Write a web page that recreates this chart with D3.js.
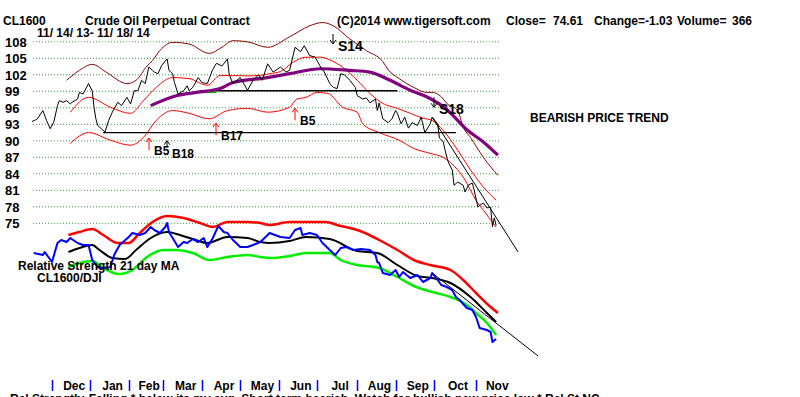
<!DOCTYPE html>
<html>
<head>
<meta charset="utf-8">
<script src="https://cdn.jsdelivr.net/npm/d3@7"></script>
<style>
  body { margin: 0; background: #fff; }
  svg text { font-family: "Liberation Sans", Arial, sans-serif; font-weight: bold; fill: #000; }
</style>
</head>
<body>
<div id="chart"></div>
<script>
// price axis ticks and month axis (trading-day index of first session in each month)
const priceTicks = [75, 78, 81, 84, 87, 90, 93, 96, 99, 102, 105, 108];
const monthNames = ['Dec', 'Jan', 'Feb', 'Mar', 'Apr', 'May', 'Jun', 'Jul', 'Aug', 'Sep', 'Oct', 'Nov'];
const monthStarts = [11, 32, 53, 72, 93, 114, 135, 156, 178, 199, 220, 243, 263];

// [trading day, value]
const price = [[0,93.5],[2,93.8],[3,94],[6,95.5],[8,93.7],[10,92.2],[12,93.4],[14,96.4],[15,97.3],[17,97],[19,97.3],[21,96.7],[22,97],[25,97.6],[26,98.8],[28,98.5],[31,100.4],[33,99.1],[34,96.1],[35,94],[36,92.8],[38,92.2],[40,91.6],[42,93.7],[44,95.2],[47,97],[49,96.4],[52,97.9],[54,96.7],[56,99.1],[58,99.1],[60,101],[62,100.4],[64,103.4],[66,102.8],[67,102.5],[69,102.2],[71,103.7],[74,104.9],[75,102.8],[77,102.2],[78,100.6],[80,98.5],[83,99.1],[85,100],[86,99.1],[88,99.7],[91,101.5],[93,100.6],[96,100.4],[99,103],[101,104.1],[104,103.6],[107,104.9],[108,102],[110,100.4],[114,101.5],[118,99.2],[121,101],[124,102],[126,101],[129,104],[132,102.5],[136,103.4],[139,102.5],[141,102.8],[144,107],[147,106.2],[149,107.3],[152,105.5],[155,105.2],[158,103.4],[160,102.5],[163,100.4],[165,99.7],[167,99.5],[169,102.2],[171,102],[174,101],[177,99.7],[178,98.2],[181,97.6],[183,97.8],[185,96.9],[188,97.6],[189,95.5],[190,96.9],[192,94],[195,93.3],[197,94],[199,95.5],[200,95],[202,93.1],[204,94.3],[206,92.3],[208,93.3],[211,92.8],[213,94.3],[215,91.5],[218,93.1],[219,94.3],[222,93.1],[223,90.5],[225,89.9],[227,87],[228,86],[230,84.7],[231,81.9],[233,82.5],[236,81.9],[237,80.7],[239,82],[241,82.3],[242,81],[244,78],[247,78.7],[249,77.8],[251,77.9],[252,74.4],[253,76],[254,74.61]];

const outerBand = [[19,101],[26,102.8],[33,103.9],[41,102.4],[52,100.4],[57,101],[63,103.6],[66,104.6],[70,106.4],[77,107.9],[86,107.6],[97,105.9],[104,107],[110,108.2],[118,108],[129,107],[141,108.9],[152,110.9],[159,111.5],[165,110.9],[174,108.5],[183,106.4],[192,104.4],[195,102.9],[201,101.3],[209,99.7],[216,98.8],[219,98.8],[224,98],[227,96.8],[233,95.5],[236,92.5],[240,90.6],[247,87],[255,83.7]];

const upperBand = [[21,95.2],[31,97.9],[43,96.1],[54,95],[61,97.3],[68,99.7],[77,101.5],[86,101.3],[96,100.1],[103,101.9],[118,101.8],[125,101.9],[130,102.2],[136,102.6],[143,104.3],[150,105.2],[158,105.2],[163,104.7],[170,103.4],[178,101],[185,98.6],[192,96.8],[200,95.9],[207,95],[214,94.1],[219,93.7],[225,91.9],[233,88.3],[240,84.7],[247,81.6],[254,79.2]];

const lowerBand = [[21,89.5],[31,91.5],[43,90.1],[54,89.2],[61,90.6],[68,93.7],[77,95.5],[86,95],[97,94],[107,95.5],[118,95.9],[129,95.2],[141,96.1],[145,97.6],[150,97.9],[156,98.8],[162,98.6],[170,96.1],[178,95.2],[181,93.1],[190,91.5],[201,90.1],[209,88.6],[218,87.7],[225,87],[233,84.7],[236,83.4],[240,81],[243,79.2],[247,77.4],[254,74.3]];

const longMa = [[65,96.4],[79,98.2],[90,98.8],[103,99.5],[110,100.6],[129,101.5],[141,102.2],[158,103.1],[174,102.8],[185,102.5],[196,101],[207,99.2],[216,98],[227,95.7],[238,92],[247,89.8],[255,87.4]];

const supportLine = [[39,91.5],[232,91.5]];
const resistanceLine = [[92,99.1],[200,99.1]];
const greenLine = [[92,98.8],[101,98.8]];
const priceTrend = [[219,94.3],[266,69.8]];

const signalLabels = ['B5', 'B18', 'B17', 'B5', 'S14', 'S18'];
const signalDays = [64, 74, 101, 144, 165, 220];
const signalLevels = [90.5, 90, 93.2, 95.9, 107.6, 96.1];

// relative strength CL1600/DJI
const rsLine = [[1,1.17],[6,1.15],[7,1.18],[11,1.08],[14,1.27],[16,1.30],[19,1.28],[21,1.32],[25,1.27],[28,1.25],[31,1.25],[33,1.10],[36,1.03],[39,1.02],[43,1.03],[45,1.15],[48,1.25],[53,1.33],[55,1.37],[59,1.35],[62,1.37],[65,1.43],[67,1.40],[70,1.37],[73,1.43],[74,1.47],[75,1.38],[77,1.32],[80,1.23],[83,1.28],[85,1.27],[88,1.31],[91,1.28],[94,1.32],[96,1.23],[99,1.32],[102,1.44],[105,1.38],[107,1.37],[110,1.30],[114,1.23],[118,1.23],[121,1.25],[125,1.28],[129,1.35],[130,1.37],[136,1.33],[141,1.32],[144,1.40],[147,1.42],[148,1.35],[152,1.37],[156,1.35],[159,1.27],[163,1.20],[166,1.15],[169,1.22],[172,1.23],[176,1.20],[180,1.21],[185,1.20],[188,1.15],[189,1.08],[190,1.07],[192,0.97],[196,0.95],[199,1.00],[201,0.93],[203,0.98],[207,0.92],[211,0.95],[214,0.88],[218,0.92],[219,0.97],[222,0.90],[224,0.85],[227,0.83],[230,0.80],[232,0.73],[234,0.70],[238,0.62],[241,0.60],[243,0.53],[245,0.42],[249,0.40],[251,0.38],[252,0.28],[254,0.31]];

const rsUpper = [[20,1.35],[26,1.38],[33,1.41],[39,1.35],[47,1.27],[53,1.27],[59,1.37],[66,1.48],[74,1.54],[83,1.52],[92,1.47],[99,1.43],[107,1.48],[118,1.48],[125,1.47],[130,1.45],[141,1.48],[161,1.48],[167,1.45],[181,1.38],[190,1.30],[200,1.20],[209,1.10],[218,1.05],[229,1.00],[236,0.90],[243,0.77],[251,0.63],[255,0.57]];

const rsMa = [[20,1.18],[26,1.22],[33,1.25],[37,1.20],[44,1.12],[51,1.11],[57,1.20],[65,1.32],[74,1.38],[81,1.35],[88,1.31],[96,1.27],[107,1.33],[118,1.32],[125,1.28],[130,1.27],[141,1.29],[150,1.33],[163,1.31],[178,1.19],[189,1.17],[200,1.05],[211,0.94],[219,0.92],[229,0.87],[240,0.73],[249,0.57],[254,0.48]];

const rsLower = [[20,1.03],[26,1.07],[33,1.09],[39,1.02],[48,0.96],[55,1.00],[63,1.13],[72,1.20],[79,1.20],[88,1.17],[97,1.10],[107,1.13],[118,1.15],[125,1.13],[130,1.12],[141,1.14],[150,1.17],[163,1.17],[169,1.10],[178,1.05],[190,1.02],[200,0.93],[209,0.84],[219,0.78],[229,0.73],[238,0.65],[243,0.57],[249,0.47],[254,0.35]];

const rsTrend = [[219,0.97],[277,0.14]];

const width = 800, height = 397;
const gridLeft = 33, gridRight = 500;

const svg = d3.select('#chart').append('svg')
    .attr('width', width)
    .attr('height', height);

svg.append('rect').attr('width', width).attr('height', height).attr('fill', '#fff');

// scales
const x = d3.scaleLinear().domain([11, 243]).range([52, 476]);
const y = d3.scaleLinear().domain([75, 108]).range([223.3, 41.8]);
const yRs = d3.scaleLinear().domain([0, 1.5]).range([370, 220]);

// header
const header = [
    ['CL1600', 3, 25], ['Crude Oil Perpetual Contract', 85, 25], ['(C)2014 www.tigersoft.com', 337, 25],
    ['Close=', 506, 25], ['74.61', 553, 25], ['Change=-1.03', 594, 25], ['Volume=', 677, 25], ['366', 732, 25],
    ['11/ 14/ 13- 11/ 18/ 14', 37, 37]
];
svg.selectAll('.hdr').data(header).enter().append('text')
    .attr('class', 'hdr')
    .attr('x', d => d[1]).attr('y', d => d[2])
    .style('font-size', '12px')
    .style('white-space', 'pre')
    .text(d => d[0]);

// dotted grid + price labels
svg.selectAll('.grid').data(priceTicks).enter().append('line')
    .attr('x1', gridLeft).attr('x2', gridRight)
    .attr('y1', d => y(d)).attr('y2', d => y(d))
    .attr('stroke', '#3a9a3a').attr('stroke-width', 1)
    .attr('stroke-dasharray', '1,2');

svg.selectAll('.ylab').data(priceTicks).enter().append('text')
    .attr('x', 5).attr('y', d => y(d) + 5)
    .style('font-size', '13px')
    .text(d => d);

const line = d3.line().x(d => x(d[0])).y(d => y(d[1]));
const smooth = d3.line().x(d => x(d[0])).y(d => y(d[1])).curve(d3.curveMonotoneX);
const rsSmooth = d3.line().x(d => x(d[0])).y(d => yRs(d[1])).curve(d3.curveMonotoneX);
const rsPlain = d3.line().x(d => x(d[0])).y(d => yRs(d[1]));

function path(data, gen, color, w) {
    svg.append('path').datum(data)
        .attr('d', gen)
        .attr('fill', 'none')
        .attr('stroke', color)
        .attr('stroke-width', w)
        .attr('stroke-linejoin', 'round');
}

// upper price panel
path(outerBand, smooth, '#8b0000', 1);
path(upperBand, smooth, '#ff0000', 1);
path(lowerBand, smooth, '#ff0000', 1);
path(supportLine, line, '#000', 1.2);
path(resistanceLine, line, '#000', 1.5);
path(greenLine, line, '#00c000', 1.5);
path(longMa, smooth, '#800080', 3.2);
path(price, line, '#000', 1);
path(priceTrend, line, '#000', 1);

// signals
signalLabels.forEach((lab, i) => {
    const sx = Math.round(x(signalDays[i]));
    const sy = y(signalLevels[i]);
    const sell = lab[0] === 'S';
    const col = (sell || lab === 'B18') ? '#000' : '#f00';
    const len = lab === 'B18' ? 7 : (sell ? 10 : 12);
    const dir = sell ? -1 : 1;
    svg.append('line')
        .attr('x1', sx).attr('x2', sx)
        .attr('y1', sy).attr('y2', sy + dir * len)
        .attr('stroke', col).attr('stroke-width', 1);
    svg.append('path')
        .attr('d', `M${sx - 3},${sy + dir * 4}L${sx},${sy}L${sx + 3},${sy + dir * 4}`)
        .attr('fill', 'none').attr('stroke', col).attr('stroke-width', 1);
    svg.append('text')
        .attr('x', sx + 5)
        .attr('y', sell ? sy + 7 : sy + 17)
        .style('font-size', sell ? '14px' : '12px')
        .text(lab);
});

svg.append('text').attr('x', 530).attr('y', 122).style('font-size', '12px').text('BEARISH PRICE TREND');

// relative strength panel
path(rsUpper, rsSmooth, '#ff0000', 2.5);
path(rsLower, rsSmooth, '#00ee00', 2.5);
path(rsMa, rsSmooth, '#000', 2);
path(rsLine, rsPlain, '#0000ff', 2);
path(rsTrend, rsPlain, '#000', 1);

svg.append('text').attr('x', 18).attr('y', 270).style('font-size', '12px').text('Relative Strength 21 day MA');
svg.append('text').attr('x', 37).attr('y', 282).style('font-size', '12px').text('CL1600/DJI');

// month axis
svg.selectAll('.mtick').data(monthStarts.slice(0, 12)).enter().append('line')
    .attr('x1', d => Math.round(x(d)) + 0.5).attr('x2', d => Math.round(x(d)) + 0.5)
    .attr('y1', 380).attr('y2', 391)
    .attr('stroke', '#0000ff').attr('stroke-width', 1.5);

svg.selectAll('.mlab').data(monthNames).enter().append('text')
    .attr('x', (d, i) => (x(monthStarts[i]) + x(monthStarts[i + 1])) / 2 + 3)
    .attr('y', 390)
    .attr('text-anchor', 'middle')
    .style('font-size', '12px')
    .text(d => d);

svg.append('text').attr('x', 10).attr('y', 403).style('font-size', '12px')
    .text('Rel Strength: Falling * below its mv avg. Short term bearish. Watch for bullish new price low * Rel St NC');
</script>
</body>
</html>
